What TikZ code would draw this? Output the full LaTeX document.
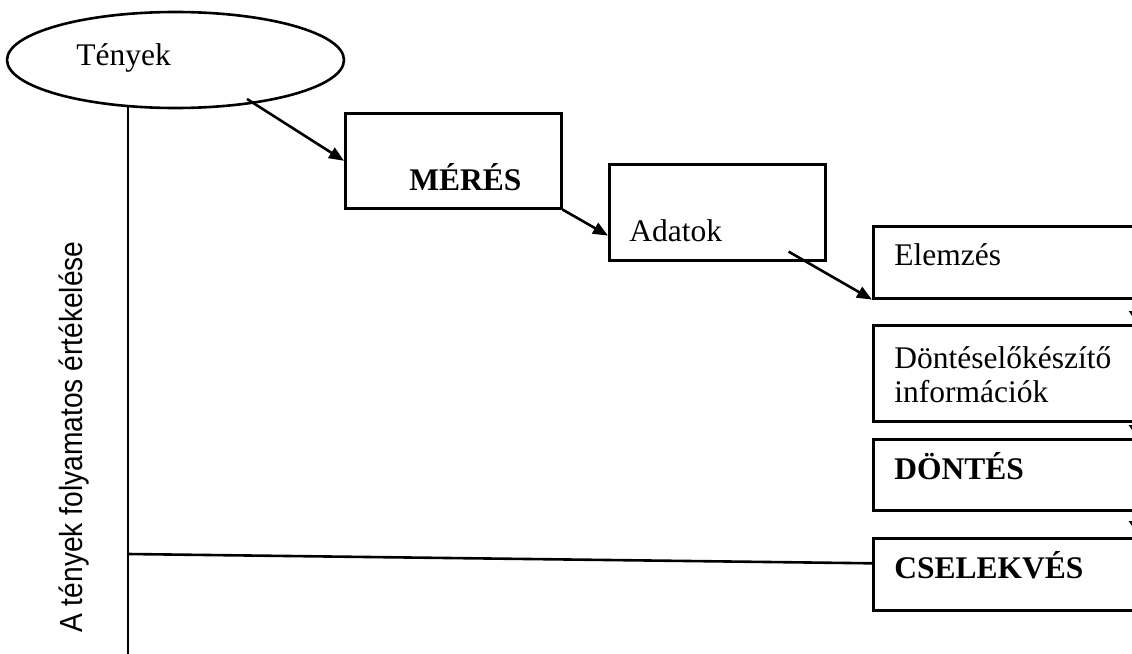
\documentclass[tikz,border=0pt]{standalone}
\usepackage{fontspec}
\setmainfont{Liberation Serif}
\newfontfamily\arialfont{Liberation Sans}
\usetikzlibrary{shapes.geometric,arrows.meta}
\begin{document}
\begin{tikzpicture}[x=1pt,y=-1pt,
  line width=2.6pt,
  box/.style={draw,rectangle,anchor=north west,inner sep=0pt},
  lbl/.style={anchor=base west,inner sep=0pt,font=\fontsize{31.5}{36}\selectfont},
  arr/.style={-{Triangle[length=15pt,width=12pt]}},
  sarr/.style={-{Triangle[length=8pt,width=10pt]}}]
\useasboundingbox (0,0) rectangle (1132,653);
\clip (0,0) rectangle (1132,653);

% oval with the facts
\node[draw,ellipse,minimum width=337pt,minimum height=96pt,inner sep=0pt] (tenyek) at (175.5,60) {};
\node[lbl] (tenyekT) at (75,65) {Tények};

% process boxes
\node[box,minimum width=216pt,minimum height=95pt] (meres) at (344,112) {};
\node[lbl,font=\fontsize{31.5}{36}\selectfont\bfseries] (meresT) at (408,190) {MÉRÉS};

\node[box,minimum width=216pt,minimum height=96pt] (adatok) at (608,163) {};
\node[lbl] (adatokT) at (628,241) {Adatok};

\node[box,minimum width=290pt,minimum height=72pt] (elemzes) at (872,225) {};
\node[lbl] (elemzesT) at (893,265) {Elemzés};

\node[box,minimum width=290pt,minimum height=96pt] (elok) at (872,324) {};
\node[lbl] (elokT1) at (893,368) {Döntéselőkészítő};
\node[lbl] (elokT2) at (893,402) {információk};

\node[box,minimum width=290pt,minimum height=71pt] (dontes) at (872,438) {};
\node[lbl,font=\fontsize{31.5}{36}\selectfont\bfseries] (dontesT) at (893,479) {DÖNTÉS};

\node[box,minimum width=290pt,minimum height=72pt] (cselekves) at (872,537) {};
\node[lbl,font=\fontsize{31.5}{36}\selectfont\bfseries] (cselekvesT) at (893,578) {CSELEKVÉS};

% side label
\node[anchor=base west,inner sep=0pt,rotate=90,font=\arialfont\fontsize{32}{36}\selectfont] (side) at (82,634) {\scalebox{0.88}[1]{A tények folyamatos értékelése}};

% flow arrows
\coordinate (t1) at (247,99);
\draw[arr] (t1) -- (meres.west);
\draw[arr] (meres.south east) -- ([yshift=26pt]adatok.south west);
\draw[arr] ([xshift=-38pt,yshift=10pt]adatok.south east) -- (elemzes.south west);

% downward links along the right column
\draw[sarr,shorten >=5pt] ([xshift=262pt]elemzes.south west) -- ([xshift=262pt]elok.north west);
\draw[sarr,shorten >=5pt] ([xshift=262pt]elok.south west) -- ([xshift=262pt]dontes.north west);
\draw[sarr,shorten >=8pt] ([xshift=262pt]dontes.south west) -- ([xshift=262pt]cselekves.north west);

% feedback line
\coordinate (vtop) at (128,106);
\coordinate (vbot) at (128,660);
\coordinate (hstart) at (128,554);
\draw (vtop) -- (vbot);
\draw (hstart) -- ([yshift=11pt]cselekves.west);
\end{tikzpicture}
\end{document}
